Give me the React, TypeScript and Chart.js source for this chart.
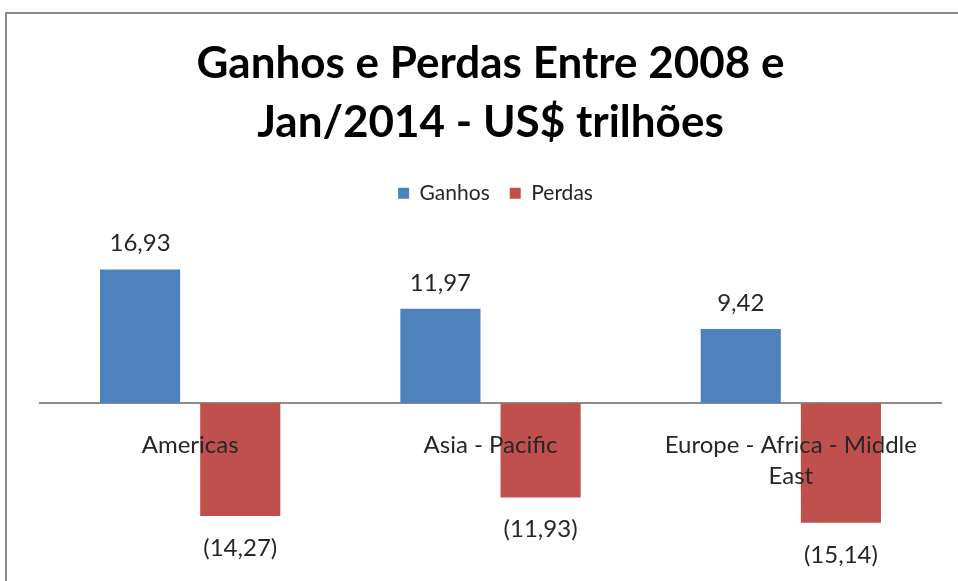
import React, { useEffect, useRef } from 'react';
import { Chart, registerables } from 'chart.js';

Chart.register(...registerables);

const categories: string[][] = [['Americas'], ['Asia - Pacific'], ['Europe - Africa - Middle', 'East']];
const seriesNames = ['Ganhos', 'Perdas'];
const ganhos = [16.93, 11.97, 9.42];
const perdas = [-14.27, -11.93, -15.14];
const titleLines = ['Ganhos e Perdas Entre 2008 e', 'Jan/2014 - US$ trilhões'];
const yMax = 24;
const yMin = -22;

const FONT = 'Lato, "Open Sans", sans-serif';

const fmt = (v: number) => {
  const s = Math.abs(v).toFixed(2).replace('.', ',');
  return v < 0 ? `(${s})` : s;
};

const framePlugin = {
  id: 'frame',
  beforeDraw(chart: any) {
    const { ctx, width, height } = chart;
    ctx.save();
    ctx.fillStyle = '#ffffff';
    ctx.fillRect(0, 0, width, height);
    ctx.strokeStyle = '#8a8a8a';
    ctx.lineWidth = 2;
    ctx.strokeRect(6, 13, width + 100, height + 100);
    ctx.restore();
  },
};

const legendShiftPlugin = {
  id: 'legendShift',
  afterLayout(chart: any) {
    const lg = chart.legend;
    if (lg) {
      lg.left += 5;
      lg.right += 5;
    }
  },
};

const labelPlugin = {
  id: 'valueLabels',
  afterDatasetsDraw(chart: any) {
    const { ctx } = chart;
    ctx.save();
    ctx.font = `24px ${FONT}`;
    ctx.fillStyle = '#262626';
    ctx.textAlign = 'center';
    ctx.textBaseline = 'middle';
    chart.data.datasets.forEach((ds: any, di: number) => {
      const meta = chart.getDatasetMeta(di);
      meta.data.forEach((bar: any, i: number) => {
        const v = ds.data[i] as number;
        const y = v >= 0 ? bar.y - 26 : bar.y + 32;
        ctx.fillText(fmt(v), bar.x, y);
      });
    });
    ctx.restore();
  },
};

export default function App() {
  const ref = useRef<HTMLCanvasElement | null>(null);
  useEffect(() => {
    if (!ref.current) return;
    const chart = new Chart(ref.current, {
      type: 'bar',
      data: {
        labels: categories as any,
        datasets: [
          {
            label: seriesNames[0],
            data: ganhos,
            backgroundColor: '#4F81BD',
            categoryPercentage: 0.667,
            barPercentage: 0.8,
          },
          {
            label: seriesNames[1],
            data: perdas,
            backgroundColor: '#C0504D',
            categoryPercentage: 0.667,
            barPercentage: 0.8,
          },
        ],
      },
      options: {
        animation: false,
        responsive: true,
        maintainAspectRatio: false,
        layout: { padding: { left: 40, right: 17, top: 0, bottom: 4 } },
        plugins: {
          title: {
            display: true,
            text: titleLines,
            color: '#000000',
            font: { family: FONT, size: 44, weight: 'bold', lineHeight: 1.35 },
            padding: { top: 34, bottom: 10 },
          },
          legend: {
            display: true,
            position: 'top',
            labels: {
              color: '#262626',
              font: { family: FONT, size: 21 },
              boxWidth: 11,
              boxHeight: 11,
              padding: 20,
            },
          },
          tooltip: { enabled: false },
        },
        scales: {
          x: {
            type: 'category',
            position: { y: 0 } as any,
            offset: true,
            grid: { display: false, drawTicks: false },
            border: { display: true, color: '#8c8c8c', width: 2 },
            ticks: {
              z: 1,
              color: '#262626',
              font: { family: FONT, size: 24, lineHeight: 1.3 },
              padding: 26,
              maxRotation: 0,
              autoSkip: false,
            },
            afterFit: (scale: any) => {
              scale.height = 0;
            },
          },
          y: {
            display: false,
            min: yMin,
            max: yMax,
          },
        },
      },
      plugins: [framePlugin, legendShiftPlugin, labelPlugin],
    });
    return () => chart.destroy();
  }, []);
  return (
    <div style={{ position: 'fixed', left: 0, top: 0, width: 958, height: 581 }}>
      <canvas ref={ref} width={958} height={581} />
    </div>
  );
}
